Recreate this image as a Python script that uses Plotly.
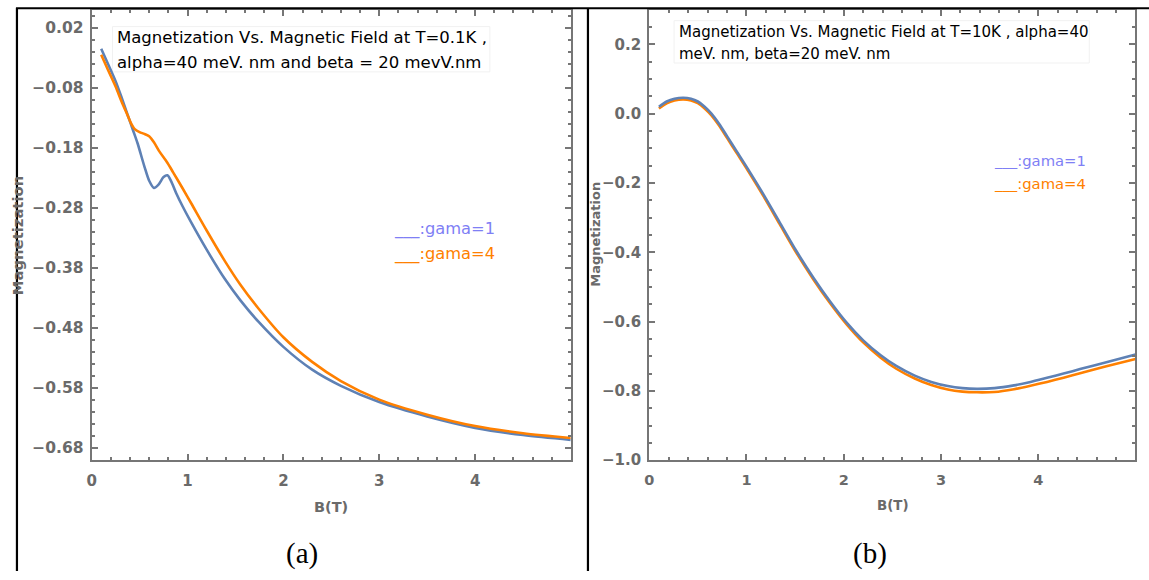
import plotly.graph_objects as go

W, H = 1149, 580

# ---------------- data: panel (a) T = 0.1 K ----------------
b_a_g1 = [0.10, 0.17, 0.25, 0.31, 0.375, 0.43, 0.48, 0.55, 0.60, 0.65, 0.70, 0.75, 0.79,
          0.83, 0.88, 0.95, 1.04, 1.20, 1.39, 1.55, 1.74, 2.00, 2.30, 2.60, 3.00, 3.50,
          4.00, 4.50, 5.00]
m_a_g1 = [-0.015, -0.040, -0.069, -0.095, -0.125, -0.150, -0.173, -0.211, -0.235, -0.247,
          -0.241, -0.229, -0.226, -0.236, -0.255, -0.278, -0.305, -0.350, -0.399, -0.434,
          -0.470, -0.512, -0.550, -0.577, -0.604, -0.628, -0.647, -0.659, -0.667]

b_a_g4 = [0.10, 0.17, 0.25, 0.31, 0.375, 0.41, 0.45, 0.50, 0.55, 0.60, 0.65, 0.71, 0.79,
          0.85, 0.95, 1.04, 1.20, 1.39, 1.55, 1.74, 2.00, 2.30, 2.60, 3.00, 3.50, 4.00,
          4.50, 5.00]
m_a_g4 = [-0.025, -0.050, -0.078, -0.102, -0.126, -0.139, -0.149, -0.154, -0.157, -0.161,
          -0.171, -0.187, -0.205, -0.221, -0.248, -0.273, -0.318, -0.369, -0.408, -0.448,
          -0.496, -0.537, -0.569, -0.600, -0.625, -0.644, -0.656, -0.664]

# ---------------- data: panel (b) T = 10 K ----------------
b_b = [0.10, 0.18, 0.26, 0.35, 0.43, 0.50, 0.57, 0.64, 0.72, 0.80, 0.90, 1.00, 1.17, 1.34,
       1.51, 1.69, 1.86, 2.03, 2.20, 2.38, 2.54, 2.73, 2.90, 3.07, 3.22, 3.37, 3.55, 3.75,
       3.92, 4.09, 4.26, 4.43, 4.70, 5.00]
m_b_g1 = [0.020, 0.035, 0.043, 0.046, 0.043, 0.035, 0.020, 0.000, -0.030, -0.065, -0.109,
          -0.153, -0.231, -0.313, -0.395, -0.474, -0.542, -0.603, -0.654, -0.697, -0.728,
          -0.756, -0.774, -0.786, -0.792, -0.794, -0.792, -0.784, -0.774, -0.762, -0.750,
          -0.737, -0.717, -0.695]
m_b_g4 = [0.015, 0.030, 0.038, 0.041, 0.038, 0.030, 0.015, -0.005, -0.035, -0.070, -0.114,
          -0.158, -0.236, -0.318, -0.400, -0.479, -0.547, -0.608, -0.660, -0.704, -0.736,
          -0.764, -0.783, -0.796, -0.802, -0.804, -0.803, -0.795, -0.785, -0.774, -0.762,
          -0.749, -0.729, -0.708]

title_a = ["Magnetization Vs. Magnetic Field at T=0.1K ,",
           "alpha=40 meV. nm and beta = 20 mevV.nm"]
title_b = ["Magnetization Vs. Magnetic Field at T=10K , alpha=40",
           "meV. nm, beta=20 meV. nm"]
legend_labels = ["___:gama=1", "___:gama=4"]

BLUE = "#5E81B5"
ORANGE = "#FF8000"
LEG_BLUE = "#7F7FF5"
LEG_ORANGE = "#FF8000"
AXC = "#767676"
TXC = "#6a6a6a"


def px(x):
    return x / W


def py(y):
    return 1 - y / H


fig = go.Figure()
fig.add_trace(go.Scatter(x=b_a_g1, y=m_a_g1, mode="lines", xaxis="x", yaxis="y",
                         line=dict(color=BLUE, width=2.6, shape="spline", smoothing=0.8)))
fig.add_trace(go.Scatter(x=b_a_g4, y=m_a_g4, mode="lines", xaxis="x", yaxis="y",
                         line=dict(color=ORANGE, width=2.6, shape="spline", smoothing=0.8)))
fig.add_trace(go.Scatter(x=b_b, y=m_b_g4, mode="lines", xaxis="x2", yaxis="y2",
                         line=dict(color=ORANGE, width=2.6, shape="spline", smoothing=0.8)))
fig.add_trace(go.Scatter(x=b_b, y=m_b_g1, mode="lines", xaxis="x2", yaxis="y2",
                         line=dict(color=BLUE, width=2.6, shape="spline", smoothing=0.8)))


def axis(size, **kw):
    d = dict(showline=True, linecolor=AXC, linewidth=2, mirror="ticks", ticks="inside",
             ticklen=6, tickwidth=1.5, tickcolor=AXC, showgrid=False, zeroline=False,
             tickfont=dict(family="DejaVu Sans", size=size, color=TXC, weight="bold"))
    d.update(kw)
    return d


ydom = [py(467.5), py(10.5)]
fig.update_layout(
    width=W, height=H, margin=dict(l=0, r=0, t=0, b=0),
    paper_bgcolor="white", plot_bgcolor="white", showlegend=False,
    xaxis=axis(15, domain=[px(87), px(568)], range=[0, 4.995], anchor="y",
               tick0=0, dtick=1, ticklabelstandoff=6,
               minor=dict(dtick=0.2, ticks="inside", ticklen=3, tickcolor=AXC, tickwidth=1.5)),
    yaxis=axis(15.5, domain=ydom, range=[-0.701, 0.049], anchor="x",
               tick0=0.02, dtick=0.1, tickformat=".2f", ticklabelstandoff=3,
               minor=dict(tick0=0.02, dtick=0.02, ticks="inside", ticklen=3, tickcolor=AXC,
                          tickwidth=1.5)),
    xaxis2=axis(14.5, domain=[px(647), px(1135)], range=[0, 4.995], anchor="y2",
                tick0=0, dtick=1, ticklabelstandoff=5,
                minor=dict(dtick=0.2, ticks="inside", ticklen=3, tickcolor=AXC, tickwidth=1.5)),
    yaxis2=axis(15, domain=ydom, range=[-1.0, 0.298], anchor="x2",
                tick0=0, dtick=0.2, tickformat=".1f", ticklabelstandoff=3,
                minor=dict(dtick=0.05, ticks="inside", ticklen=3, tickcolor=AXC, tickwidth=1.5)),
)

ann = []


def text(x, y, s, size, color="black", family="DejaVu Sans", xanchor="left",
         weight="normal", angle=0):
    ann.append(dict(x=px(x), y=py(y), xref="paper", yref="paper", text=s, showarrow=False,
                    xanchor=xanchor, yanchor="middle", textangle=angle,
                    font=dict(family=family, size=size, color=color, weight=weight)))


# chart titles (inside plot)
text(110, 38, title_a[0], 16.5)
text(110, 63, title_a[1], 16.5)
text(675, 33, title_b[0], 15)
text(675, 55, title_b[1], 15)

# legend texts
text(389, 233, legend_labels[0], 16.3, LEG_BLUE)
text(389, 258, legend_labels[1], 16.3, LEG_ORANGE)
text(991, 163, legend_labels[0], 14.8, LEG_BLUE)
text(991, 186, legend_labels[1], 14.8, LEG_ORANGE)

# axis titles
text(12, 239, "Magnetization", 14.8, TXC, xanchor="center", weight="bold", angle=-90)
text(593, 238, "Magnetization", 13, TXC, xanchor="center", weight="bold", angle=-90)
text(327, 515, "B(T)", 14.5, TXC, xanchor="center", weight="bold")
text(892, 513, "B(T)", 13.4, TXC, xanchor="center", weight="bold")

# panel captions
text(298, 562, "(a)", 29, "black", family="Liberation Serif", xanchor="center")
text(869, 562, "(b)", 29, "black", family="Liberation Serif", xanchor="center")

fig.update_layout(annotations=ann)

# table borders and faint text boxes
shapes = [
    dict(type="line", xref="paper", yref="paper", x0=px(11), x1=1, y0=py(8.5), y1=py(8.5),
         line=dict(color="black", width=2)),
    dict(type="line", xref="paper", yref="paper", x0=px(12), x1=px(12), y0=0, y1=py(8.5),
         line=dict(color="black", width=2.2)),
    dict(type="line", xref="paper", yref="paper", x0=px(585.5), x1=px(585.5), y0=0,
         y1=py(8.5), line=dict(color="black", width=2.2)),
    dict(type="rect", xref="paper", yref="paper", x0=px(108), x1=px(487), y0=py(73),
         y1=py(27), line=dict(color="#f1f1f1", width=1), layer="below"),
    dict(type="rect", xref="paper", yref="paper", x0=px(672), x1=px(1089), y0=py(64),
         y1=py(21), line=dict(color="#f1f1f1", width=1), layer="below"),
]
fig.update_layout(shapes=shapes)

fig.write_html("out.html")
